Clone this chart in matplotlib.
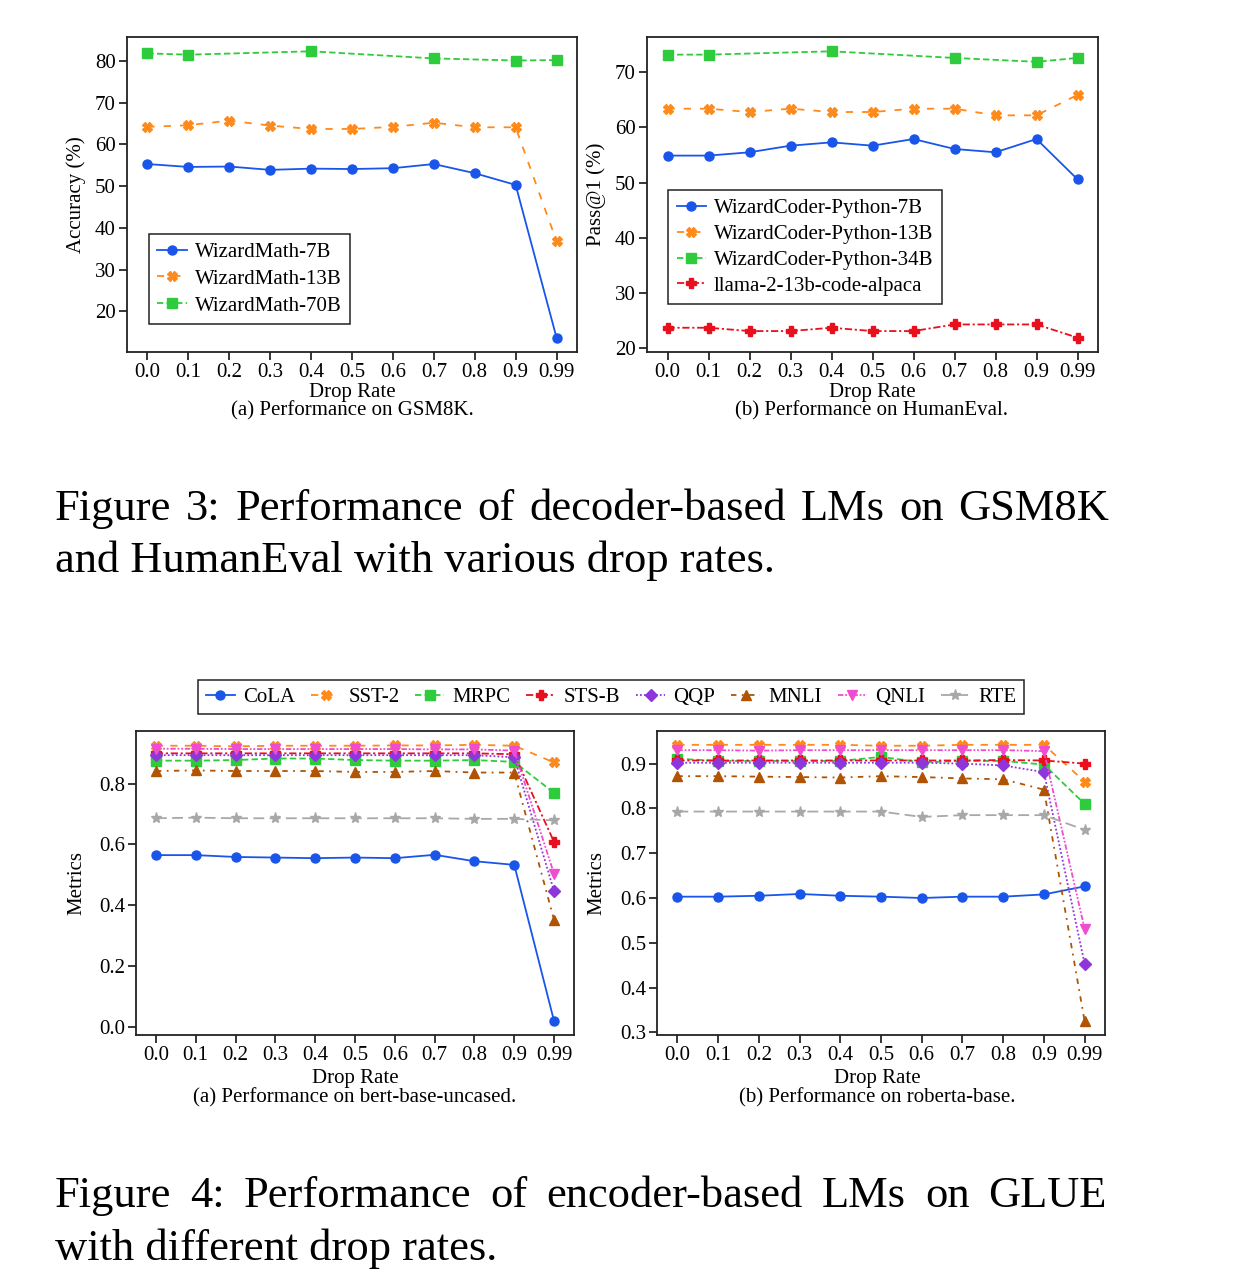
import numpy as np
import matplotlib
matplotlib.use("Agg")
import matplotlib.pyplot as plt

plt.rcParams['font.family'] = ['Liberation Serif', 'DejaVu Serif']
plt.rcParams['mathtext.fontset'] = 'stix'

# ---------------- data ----------------
drop_rates = ['0.0', '0.1', '0.2', '0.3', '0.4', '0.5', '0.6', '0.7', '0.8', '0.9', '0.99']

# GSM8K
wm7b = [55.3, 54.6, 54.7, 53.9, 54.2, 54.1, 54.3, 55.3, 53.1, 50.3, 13.7]
wm13b = [64.2, 64.6, 65.7, 64.5, 63.7, 63.7, 64.2, 65.2, 64.1, 64.1, 36.8]
wm70b_rates = ['0.0', '0.1', '0.4', '0.7', '0.9', '0.99']
wm70b = [81.8, 81.5, 82.3, 80.6, 80.1, 80.2]

# HumanEval
wc7b = [54.9, 54.9, 55.5, 56.7, 57.3, 56.7, 57.9, 56.1, 55.5, 57.9, 50.6]
wc13b = [63.4, 63.4, 62.8, 63.4, 62.8, 62.8, 63.4, 63.4, 62.2, 62.2, 65.9]
wc34b_rates = ['0.0', '0.1', '0.4', '0.7', '0.9', '0.99']
wc34b = [73.2, 73.2, 73.8, 72.6, 71.9, 72.6]
llama = [23.7, 23.7, 23.1, 23.1, 23.7, 23.1, 23.1, 24.3, 24.3, 24.3, 21.9]

# GLUE tasks
glue_tasks = ['CoLA', 'SST-2', 'MRPC', 'STS-B', 'QQP', 'MNLI', 'QNLI', 'RTE']

bert_cola = [0.565, 0.565, 0.559, 0.557, 0.555, 0.557, 0.555, 0.566, 0.545, 0.533, 0.020]
bert_sst2 = [0.924, 0.924, 0.922, 0.924, 0.924, 0.924, 0.925, 0.925, 0.927, 0.924, 0.869]
bert_mrpc = [0.875, 0.875, 0.877, 0.882, 0.882, 0.877, 0.875, 0.875, 0.877, 0.871, 0.769]
bert_stsb = [0.899, 0.899, 0.899, 0.899, 0.899, 0.899, 0.899, 0.899, 0.899, 0.896, 0.608]
bert_qqp = [0.893, 0.893, 0.893, 0.893, 0.893, 0.893, 0.893, 0.893, 0.893, 0.886, 0.446]
bert_mnli = [0.841, 0.843, 0.841, 0.841, 0.841, 0.838, 0.838, 0.841, 0.836, 0.836, 0.352]
bert_qnli = [0.914, 0.914, 0.913, 0.913, 0.913, 0.913, 0.913, 0.912, 0.912, 0.908, 0.503]
bert_rte = [0.686, 0.688, 0.686, 0.686, 0.686, 0.686, 0.686, 0.686, 0.684, 0.684, 0.679]

rob_cola = [0.603, 0.603, 0.605, 0.609, 0.605, 0.603, 0.600, 0.603, 0.603, 0.608, 0.626]
rob_sst2 = [0.942, 0.942, 0.942, 0.942, 0.942, 0.940, 0.940, 0.942, 0.942, 0.942, 0.860]
rob_mrpc = [0.911, 0.906, 0.906, 0.906, 0.906, 0.915, 0.903, 0.906, 0.906, 0.898, 0.810]
rob_stsb = [0.907, 0.907, 0.907, 0.907, 0.907, 0.907, 0.907, 0.907, 0.908, 0.907, 0.900]
rob_qqp = [0.902, 0.902, 0.902, 0.902, 0.902, 0.902, 0.902, 0.900, 0.896, 0.881, 0.453]
rob_mnli = [0.872, 0.872, 0.871, 0.870, 0.869, 0.872, 0.870, 0.867, 0.865, 0.842, 0.325]
rob_qnli = [0.930, 0.930, 0.929, 0.930, 0.930, 0.930, 0.930, 0.930, 0.930, 0.928, 0.531]
rob_rte = [0.793, 0.793, 0.793, 0.793, 0.793, 0.793, 0.781, 0.785, 0.785, 0.785, 0.752]

bert_series = [bert_cola, bert_sst2, bert_mrpc, bert_stsb, bert_qqp, bert_mnli, bert_qnli, bert_rte]
rob_series = [rob_cola, rob_sst2, rob_mrpc, rob_stsb, rob_qqp, rob_mnli, rob_qnli, rob_rte]

# ---------------- styles ----------------
BLUE = '#1a55ea'
ORANGE = '#ff8a1c'
GREEN = '#2ecc3c'
RED = '#e8101c'
PURPLE = '#8e35dc'
BROWN = '#b05404'
PINK = '#f04cd0'
GRAY = '#a8a8a8'

glue_styles = [
    dict(color=BLUE, ls='-', marker='o'),
    dict(color=ORANGE, ls=(0, (4, 4)), marker='X'),
    dict(color=GREEN, ls=(0, (3.5, 1.8)), marker='s'),
    dict(color=RED, ls=(0, (4, 1.5, 1.2, 1.5)), marker='P'),
    dict(color=PURPLE, ls=(0, (1, 1.2)), marker='D'),
    dict(color=BROWN, ls=(0, (3, 3, 1, 3)), marker='^'),
    dict(color=PINK, ls=(0, (3, 1, 1, 1, 1, 1)), marker='v'),
    dict(color=GRAY, ls=(0, (6, 3)), marker='*'),
]

W, H = 1236, 1274
fig = plt.figure(figsize=(W / 100, H / 100), dpi=100)


def add_ax(x0, y0, x1, y1):
    return fig.add_axes([x0 / W, 1 - y1 / H, (x1 - x0) / W, (y1 - y0) / H])


def ftext(x, y, s, **kw):
    return fig.text(x / W, 1 - y / H, s, **kw)


TICK_FS = 15
LEG_FS = 15
LW = 1.3
MS = 6.5


def style_ax(ax, yticks, yfmt):
    ax.set_xticks(range(len(drop_rates)))
    ax.set_xticklabels(drop_rates)
    ax.set_yticks(yticks)
    ax.set_yticklabels([yfmt.format(v) for v in yticks])
    ax.tick_params(axis='both', labelsize=TICK_FS, direction='out', length=6,
                   width=1.1, pad=2, top=False, right=False)
    for sp in ax.spines.values():
        sp.set_linewidth(1.3)
        sp.set_color('#222222')


xpos = np.arange(len(drop_rates))

# ---------------- top left: GSM8K ----------------
ax1 = add_ax(127, 37, 577, 352)
ax1.plot(xpos, wm7b, color=BLUE, ls='-', marker='o', lw=LW, ms=MS, label='WizardMath-7B')
ax1.plot(xpos, wm13b, color=ORANGE, ls=(0, (4, 5)), marker='X', lw=LW, ms=MS + 0.5, label='WizardMath-13B')
ax1.plot([drop_rates.index(r) for r in wm70b_rates], wm70b, color=GREEN, ls=(0, (3.5, 1.8)),
         marker='s', lw=LW, ms=MS, label='WizardMath-70B')
style_ax(ax1, [20, 30, 40, 50, 60, 70, 80], '{:d}')
ax1.legend(loc='lower left', bbox_to_anchor=(0.049, 0.089), borderaxespad=0, fontsize=LEG_FS,
           frameon=True, fancybox=False, edgecolor='#222222', framealpha=1,
           handlelength=1.4, handletextpad=0.4, labelspacing=0.35, borderpad=0.4).get_frame().set_linewidth(1.1)

# ---------------- top right: HumanEval ----------------
ax2 = add_ax(647, 37, 1098, 352)
ax2.plot(xpos, wc7b, color=BLUE, ls='-', marker='o', lw=LW, ms=MS, label='WizardCoder-Python-7B')
ax2.plot(xpos, wc13b, color=ORANGE, ls=(0, (4, 5)), marker='X', lw=LW, ms=MS + 0.5, label='WizardCoder-Python-13B')
ax2.plot([drop_rates.index(r) for r in wc34b_rates], wc34b, color=GREEN, ls=(0, (3.5, 1.8)),
         marker='s', lw=LW, ms=MS, label='WizardCoder-Python-34B')
ax2.plot(xpos, llama, color=RED, ls=(0, (4, 1.5, 1.2, 1.5)), marker='P', lw=LW, ms=MS + 0.5,
         label='llama-2-13b-code-alpaca')
style_ax(ax2, [20, 30, 40, 50, 60, 70], '{:d}')
ax2.legend(loc='lower left', bbox_to_anchor=(0.047, 0.152), borderaxespad=0, fontsize=LEG_FS,
           frameon=True, fancybox=False, edgecolor='#222222', framealpha=1,
           handlelength=1.4, handletextpad=0.4, labelspacing=0.3, borderpad=0.4).get_frame().set_linewidth(1.1)

# ---------------- bottom left: bert ----------------
ax3 = add_ax(136, 731, 574, 1035)
for task, vals, st in zip(glue_tasks, bert_series, glue_styles):
    ms = MS + (1.5 if st['marker'] == '*' else 0.5 if st['marker'] in ('X', 'P') else 0)
    ax3.plot(xpos, vals, lw=LW, ms=ms, label=task, **st)
style_ax(ax3, [0.0, 0.2, 0.4, 0.6, 0.8], '{:.1f}')

# ---------------- bottom right: roberta ----------------
ax4 = add_ax(657, 731, 1105, 1035)
for task, vals, st in zip(glue_tasks, rob_series, glue_styles):
    ms = MS + (1.5 if st['marker'] == '*' else 0.5 if st['marker'] in ('X', 'P') else 0)
    ax4.plot(xpos, vals, lw=LW, ms=ms, label=task, **st)
style_ax(ax4, [0.3, 0.4, 0.5, 0.6, 0.7, 0.8, 0.9], '{:.1f}')

# shared legend for GLUE
handles, labels = ax3.get_legend_handles_labels()
leg = fig.legend(handles, labels, loc='center', bbox_to_anchor=(611 / W, 1 - 697 / H), ncol=8,
                 fontsize=LEG_FS, frameon=True, fancybox=False, edgecolor='#222222', framealpha=1,
                 handlelength=1.4, handletextpad=0.4, columnspacing=0.75, borderpad=0.35)
leg.get_frame().set_linewidth(1.1)

# ---------------- axis labels & captions ----------------
LAB_FS = 15
ftext(352, 392, 'Drop Rate', ha='center', va='center', fontsize=LAB_FS)
ftext(352, 411, '(a) Performance on GSM8K.', ha='center', va='center', fontsize=LAB_FS)
ftext(76, 194.5, 'Accuracy (%)', ha='center', va='center', rotation=90, fontsize=LAB_FS)

ftext(872, 392, 'Drop Rate', ha='center', va='center', fontsize=LAB_FS)
ftext(872, 411, '(b) Performance on HumanEval.', ha='center', va='center', fontsize=LAB_FS)
ftext(596, 194.5, 'Pass@1 (%)', ha='center', va='center', rotation=90, fontsize=LAB_FS)

ftext(355, 1078, 'Drop Rate', ha='center', va='center', fontsize=LAB_FS)
ftext(355, 1098, '(a) Performance on bert-base-uncased.', ha='center', va='center', fontsize=LAB_FS)
ftext(77, 883, 'Metrics', ha='center', va='center', rotation=90, fontsize=LAB_FS)

ftext(877, 1078, 'Drop Rate', ha='center', va='center', fontsize=LAB_FS)
ftext(877, 1098, '(b) Performance on roberta-base.', ha='center', va='center', fontsize=LAB_FS)
ftext(597, 883, 'Metrics', ha='center', va='center', rotation=90, fontsize=LAB_FS)

CAP_FS = 32
renderer = fig.canvas.get_renderer()


def justified(line, x0, x1, y):
    words = line.split()
    objs = [ftext(0, y, w_, ha='left', va='baseline', fontsize=CAP_FS) for w_ in words]
    widths = [o.get_window_extent(renderer).width for o in objs]
    gap = (x1 - x0 - sum(widths)) / (len(words) - 1)
    x = x0
    for o, wdt in zip(objs, widths):
        o.set_x(x / W)
        x += wdt + gap


justified('Figure 3: Performance of decoder-based LMs on GSM8K', 55, 1109, 520)
ftext(55, 572, 'and HumanEval with various drop rates.', ha='left', va='baseline', fontsize=CAP_FS)
justified('Figure 4: Performance of encoder-based LMs on GLUE', 55, 1107, 1207)
ftext(55, 1260, 'with different drop rates.', ha='left', va='baseline', fontsize=CAP_FS)

fig.savefig('out.png', dpi=100, facecolor='white')
